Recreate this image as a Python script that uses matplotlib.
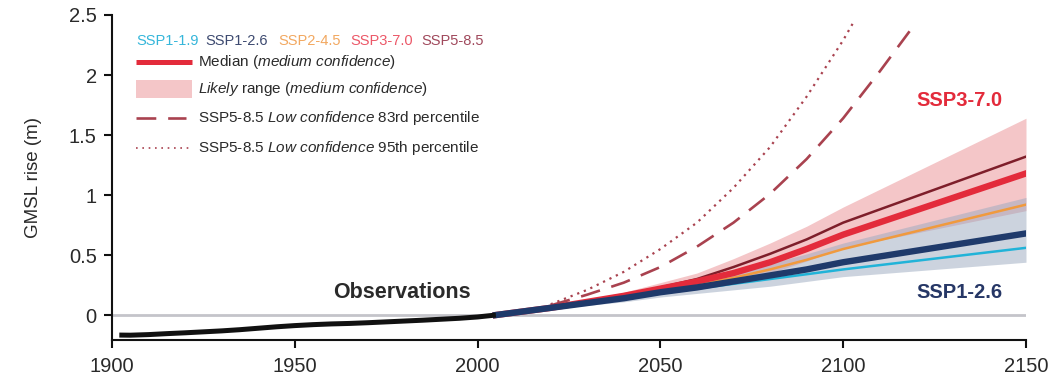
import matplotlib
matplotlib.use("Agg")
import matplotlib.pyplot as plt
from matplotlib.patches import Rectangle

plt.rcParams['font.family'] = ['Liberation Sans', 'DejaVu Sans']
plt.rcParams['mathtext.fontset'] = 'custom'
plt.rcParams['mathtext.rm'] = 'Liberation Sans'
plt.rcParams['mathtext.it'] = 'Liberation Sans:italic'

# Observed global mean sea level (m, relative to 1995-2014)
obs_years = [1902, 1905, 1910, 1915, 1920, 1925, 1930, 1935, 1940, 1945, 1950,
             1955, 1960, 1965, 1970, 1975, 1980, 1985, 1990, 1995, 2000, 2005]
obs_gmsl = [-0.167, -0.168, -0.163, -0.155, -0.148, -0.140, -0.132, -0.122, -0.110,
            -0.098, -0.088, -0.080, -0.074, -0.070, -0.064, -0.057, -0.050, -0.043,
            -0.035, -0.027, -0.016, 0.0]

# Projected medians per scenario
proj_years = [2005, 2020, 2030, 2040, 2050, 2060, 2070, 2080, 2090, 2100, 2150]
ssp119 = [0.0, 0.06, 0.10, 0.14, 0.18, 0.22, 0.26, 0.30, 0.34, 0.38, 0.56]
ssp126 = [0.0, 0.06, 0.10, 0.14, 0.19, 0.23, 0.28, 0.33, 0.38, 0.44, 0.68]
ssp245 = [0.0, 0.06, 0.10, 0.15, 0.20, 0.25, 0.31, 0.38, 0.46, 0.55, 0.92]
ssp370 = [0.0, 0.06, 0.11, 0.16, 0.22, 0.28, 0.35, 0.44, 0.55, 0.67, 1.18]
ssp585 = [0.0, 0.06, 0.11, 0.16, 0.23, 0.30, 0.40, 0.51, 0.63, 0.77, 1.32]

# Likely ranges
ssp126_lo = [0.0, 0.05, 0.08, 0.11, 0.15, 0.18, 0.21, 0.24, 0.28, 0.32, 0.44]
ssp126_hi = [0.0, 0.08, 0.12, 0.17, 0.23, 0.29, 0.36, 0.43, 0.51, 0.60, 0.98]
ssp370_lo = [0.0, 0.05, 0.09, 0.13, 0.18, 0.23, 0.28, 0.35, 0.45, 0.56, 0.87]
ssp370_hi = [0.0, 0.08, 0.13, 0.19, 0.27, 0.35, 0.47, 0.60, 0.74, 0.90, 1.64]

# SSP5-8.5 low-confidence percentiles
p83_years = [2020, 2030, 2040, 2050, 2060, 2070, 2080, 2090, 2100, 2110, 2120]
p83_gmsl = [0.08, 0.17, 0.27, 0.40, 0.57, 0.77, 1.01, 1.30, 1.64, 2.03, 2.44]
p95_years = [2020, 2025, 2030, 2040, 2050, 2060, 2070, 2080, 2090, 2100, 2103]
p95_gmsl = [0.09, 0.15, 0.21, 0.36, 0.55, 0.77, 1.06, 1.40, 1.82, 2.29, 2.45]

scenario_names = ['SSP1-1.9', 'SSP1-2.6', 'SSP2-4.5', 'SSP3-7.0', 'SSP5-8.5']
header_colors = ['#35b6da', '#3d4a70', '#f2a860', '#ec5868', '#a0495c']

c119 = '#21b3d8'
c126 = '#1f3a6b'
c245 = '#f09a3e'
c370 = '#e32b3b'
c585 = '#7e1e2a'
c_low = '#a9424f'
txt = '#2a2a2a'

fig = plt.figure(figsize=(10.5, 3.84), dpi=100)
ax = fig.add_axes([112 / 1050, 1 - 340 / 384, 914 / 1050, 325 / 384])

ax.axhline(0, color='#c4c4ca', lw=2.0, zorder=1)

ax.fill_between(proj_years, ssp370_lo, ssp370_hi, color='#f4c6c8', lw=0, zorder=2)
ax.fill_between(proj_years, ssp126_lo, ssp126_hi, color='#9aa9bf', alpha=0.5, lw=0, zorder=3)

ax.plot(p95_years, p95_gmsl, color=c_low, lw=1.6, ls=(0, (1, 2.2)), zorder=4)
ax.plot(p83_years, p83_gmsl, color=c_low, lw=1.9, ls=(0, (7.5, 4.5)), zorder=4)

ax.plot(proj_years, ssp119, color=c119, lw=1.8, zorder=5)
ax.plot(proj_years, ssp245, color=c245, lw=1.8, zorder=5)
ax.plot(proj_years, ssp585, color=c585, lw=1.8, zorder=5)
ax.plot(proj_years, ssp370, color=c370, lw=4.6, zorder=6)
ax.plot(proj_years, ssp126, color=c126, lw=4.6, zorder=7)

ax.plot(obs_years, obs_gmsl, color='#111111', lw=3.6, solid_capstyle='butt', zorder=8)

ax.set_xlim(1900, 2150)
ax.set_ylim(-0.208, 2.5)
ax.set_xticks([1900, 1950, 2000, 2050, 2100, 2150])
ax.set_yticks([0, 0.5, 1, 1.5, 2, 2.5])
ax.set_yticklabels(['0', '0.5', '1', '1.5', '2', '2.5'])
for s in ['top', 'right']:
    ax.spines[s].set_visible(False)
for s in ['left', 'bottom']:
    ax.spines[s].set_linewidth(1.5)
    ax.spines[s].set_color('#111111')
ax.tick_params(axis='both', direction='out', length=6, width=1.5, colors='#111111',
               labelsize=14.5, labelcolor=txt)
ax.tick_params(axis='y', pad=5)
ax.tick_params(axis='x', pad=6)
ax.set_ylabel('GMSL rise (m)', fontsize=13.5, color=txt)
ax.yaxis.set_label_coords(-0.0766, 0.5)

ax.text(1998, 0.19, 'Observations', fontsize=15.5, fontweight='bold', color=txt,
        ha='right', va='center')
ax.text(2143.5, 1.79, 'SSP3-7.0', fontsize=14.5, fontweight='bold', color=c370,
        ha='right', va='center')
ax.text(2143.5, 0.19, 'SSP1-2.6', fontsize=14.5, fontweight='bold', color='#263766',
        ha='right', va='center')

# legend block
def fx(px):
    return (px - 112) / 914

def fy(py):
    return (340 - py) / 325

header_x = [136, 205, 278, 350, 421]
for x0, name, col in zip(header_x, scenario_names, header_colors):
    ax.text(fx(x0), fy(41), name, transform=ax.transAxes, fontsize=10.5,
            color=col, ha='left', va='center')

hx0, hx1, tx = fx(136), fx(192), fx(198)
ax.plot([hx0, hx1], [fy(62), fy(62)], transform=ax.transAxes, color=c370,
        lw=3.6, solid_capstyle='butt', clip_on=False)
ax.add_patch(Rectangle((hx0, fy(98)), hx1 - hx0, fy(80) - fy(98),
                       transform=ax.transAxes, color='#f4c6c8', lw=0, clip_on=False))
ax.plot([hx0, fx(186)], [fy(118), fy(118)], transform=ax.transAxes, color=c_low,
        lw=1.9, ls=(0, (7.5, 4.5)), clip_on=False)
ax.plot([hx0, hx1], [fy(148), fy(148)], transform=ax.transAxes, color=c_low,
        lw=1.2, ls=(0, (1, 2.8)), clip_on=False)

legend_labels = [
    (62, r'Median ($\mathit{medium\ confidence}$)'),
    (89, r'$\mathit{Likely}$ range ($\mathit{medium\ confidence}$)'),
    (118, r'SSP5-8.5 $\mathit{Low\ confidence}$ 83rd percentile'),
    (148, r'SSP5-8.5 $\mathit{Low\ confidence}$ 95th percentile'),
]
for py, lab in legend_labels:
    ax.text(tx, fy(py), lab, transform=ax.transAxes, fontsize=11, color=txt,
            ha='left', va='center')

fig.savefig('out.png', dpi=100)
